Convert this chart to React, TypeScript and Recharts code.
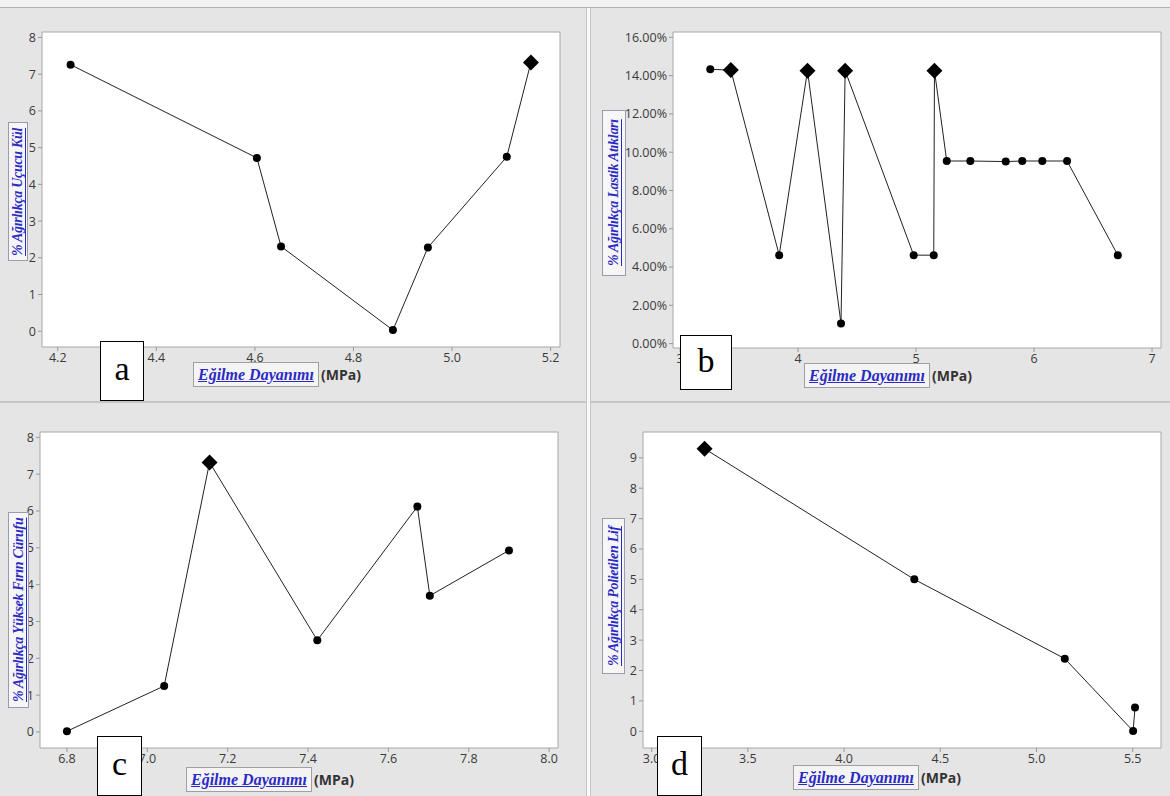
import React from "react";
import { LineChart, Line, XAxis, YAxis, ReferenceArea } from "recharts";

// a — Uçucu Kül
const aStrength = [4.226, 4.604, 4.653, 4.88, 4.951, 5.111, 5.16];
const aPercent = [7.26, 4.72, 2.31, 0.03, 2.28, 4.75, 7.32];
const aBest = [6];
const aXTicks = [4.2, 4.4, 4.6, 4.8, 5.0, 5.2];
const aYTicks = [0, 1, 2, 3, 4, 5, 6, 7, 8];

// b — Lastik Atıkları
const bStrength = [3.256, 3.43, 3.84, 4.08, 4.364, 4.399, 4.98, 5.15, 5.156, 5.26, 5.46, 5.76, 5.9, 6.07, 6.28, 6.71];
const bPercent = [14.33, 14.29, 4.62, 14.26, 1.05, 14.26, 4.62, 4.62, 14.26, 9.54, 9.54, 9.51, 9.54, 9.54, 9.54, 4.62];
const bBest = [1, 3, 5, 8];
const bXTicks = [3, 4, 5, 6, 7];
const bYTicks = [0, 2, 4, 6, 8, 10, 12, 14, 16];

// c — Yüksek Fırın Cürufu
const cStrength = [6.8, 7.042, 7.155, 7.423, 7.672, 7.703, 7.9];
const cPercent = [0.02, 1.25, 7.32, 2.49, 6.12, 3.7, 4.93];
const cBest = [2];
const cXTicks = [6.8, 7.0, 7.2, 7.4, 7.6, 7.8, 8.0];
const cYTicks = [0, 1, 2, 3, 4, 5, 6, 7, 8];

// d — Polietilen Lif
const dStrength = [3.275, 4.365, 5.147, 5.502, 5.512];
const dPercent = [9.3, 5.0, 2.39, 0.01, 0.78];
const dBest = [0];
const dXTicks = [3.0, 3.5, 4.0, 4.5, 5.0, 5.5];
const dYTicks = [0, 1, 2, 3, 4, 5, 6, 7, 8, 9];

const xLabel = "Eğilme Dayanımı";
const unitLabel = "(MPa)";

const BLUE = "#2b2bc4";
const TICK = { fontSize: 12.5, fill: "#3a3a3a", fontFamily: "'Open Sans', sans-serif" };

function makeDot(best: number[]) {
  return (props: any) => {
    const { cx, cy, index } = props;
    if (best.includes(index)) {
      const s = 8;
      return (
        <path
          key={`dm-${index}`}
          d={`M${cx},${cy - s} L${cx + s},${cy} L${cx},${cy + s} L${cx - s},${cy} Z`}
          fill="#000"
        />
      );
    }
    return <circle key={`dt-${index}`} cx={cx} cy={cy} r={4} fill="#000" />;
  };
}

interface PanelProps {
  xs: number[];
  ys: number[];
  best: number[];
  xDomain: [number, number];
  yDomain: [number, number];
  xTicks: number[];
  yTicks: number[];
  xFmt: (v: number) => string;
  yFmt: (v: number) => string;
  left: number;
  top: number;
  height: number;
  margin: { top: number; right: number; bottom: number; left: number };
  yWidth: number;
}

function Panel(p: PanelProps) {
  const data = p.xs.map((x, i) => ({ x, y: p.ys[i] }));
  return (
    <div style={{ position: "absolute", left: p.left, top: p.top }}>
      <LineChart width={585} height={p.height} data={data} margin={p.margin}>
        <XAxis
          type="number"
          dataKey="x"
          domain={p.xDomain}
          ticks={p.xTicks}
          tickFormatter={p.xFmt}
          allowDataOverflow
          axisLine={false}
          tickLine={{ stroke: "#999" }}
          tickSize={4}
          tickMargin={2}
          height={28}
          tick={TICK}
        />
        <YAxis
          type="number"
          domain={p.yDomain}
          ticks={p.yTicks}
          tickFormatter={p.yFmt}
          allowDataOverflow
          axisLine={false}
          tickLine={{ stroke: "#999" }}
          tickSize={4}
          tickMargin={2}
          width={p.yWidth}
          tick={TICK}
        />
        <ReferenceArea
          x1={p.xDomain[0]}
          x2={p.xDomain[1]}
          y1={p.yDomain[0]}
          y2={p.yDomain[1]}
          fill="#fff"
          fillOpacity={1}
          stroke="#a8a8a8"
          strokeWidth={1}
          ifOverflow="visible"
        />
        <Line
          type="linear"
          dataKey="y"
          stroke="#222"
          strokeWidth={1}
          dot={makeDot(p.best)}
          activeDot={false}
          isAnimationActive={false}
        />
      </LineChart>
    </div>
  );
}

function YTitle({ text, left, top, width, height }: { text: string; left: number; top: number; width: number; height: number }) {
  return (
    <div
      style={{
        position: "absolute",
        left,
        top,
        width,
        height,
        boxSizing: "border-box",
        border: "1px solid #9a9ab0",
        background: "#f6f6f6",
        writingMode: "vertical-rl",
        transform: "rotate(180deg)",
        fontFamily: "'Liberation Serif', serif",
        fontStyle: "italic",
        fontWeight: "bold",
        fontSize: 14,
        letterSpacing: "-0.3px",
        color: BLUE,
        textDecoration: "underline",
        lineHeight: `${width - 2}px`,
        textAlign: "center",
        whiteSpace: "nowrap",
      }}
    >
      {text}
    </div>
  );
}

function XTitle({ left, top }: { left: number; top: number }) {
  return (
    <div style={{ position: "absolute", left, top, display: "flex", alignItems: "center", whiteSpace: "nowrap" }}>
      <div
        style={{
          border: "1px solid #a0a0a0",
          background: "#f4f4f4",
          height: 25,
          width: 126,
          boxSizing: "border-box",
          fontFamily: "'Liberation Serif', serif",
          fontStyle: "italic",
          fontWeight: "bold",
          fontSize: 16,
          color: BLUE,
          textDecoration: "underline",
          lineHeight: "23px",
          textAlign: "center",
        }}
      >
        {xLabel}
      </div>
      <span style={{ fontFamily: "'Open Sans', sans-serif", fontWeight: "bold", fontSize: 14, color: "#333", marginLeft: 2 }}>
        {unitLabel}
      </span>
    </div>
  );
}

function Letter({ ch, left, top, width, height }: { ch: string; left: number; top: number; width: number; height: number }) {
  return (
    <div
      style={{
        position: "absolute",
        left,
        top,
        width,
        height,
        boxSizing: "border-box",
        border: "1px solid #000",
        background: "#fff",
        fontFamily: "'Liberation Serif', serif",
        fontSize: 34,
        lineHeight: `${height - 6}px`,
        textAlign: "center",
        color: "#000",
      }}
    >
      {ch}
    </div>
  );
}

const one = (v: number) => v.toFixed(1);
const int = (v: number) => String(v);
const pct = (v: number) => `${v.toFixed(2)}%`;

export default function App() {
  return (
    <div style={{ position: "relative", width: 1170, height: 796, background: "#e5e5e5", overflow: "hidden" }}>
      <style>{`body{margin:0}`}</style>
      {/* frame lines */}
      <div style={{ position: "absolute", left: 0, top: 0, width: 1170, height: 7, background: "#f2f2f2" }} />
      <div style={{ position: "absolute", left: 0, top: 7, width: 1170, height: 1, background: "#b0b0b0" }} />
      <div style={{ position: "absolute", left: 0, top: 401, width: 1170, height: 2, background: "#c6c6c6" }} />
      <div style={{ position: "absolute", left: 586, top: 8, width: 1, height: 788, background: "#c6c6c6" }} />
      <div style={{ position: "absolute", left: 587, top: 8, width: 3, height: 788, background: "#fafafa" }} />
      <div style={{ position: "absolute", left: 590, top: 8, width: 1, height: 788, background: "#c6c6c6" }} />

      <Panel
        xs={aStrength} ys={aPercent} best={aBest}
        xDomain={[4.168, 5.219]} yDomain={[-0.43, 8.15]}
        xTicks={aXTicks} yTicks={aYTicks} xFmt={one} yFmt={int}
        left={0} top={0} height={400}
        margin={{ top: 32, right: 25, bottom: 25, left: 2 }} yWidth={40}
      />
      <Panel
        xs={bStrength} ys={bPercent} best={bBest}
        xDomain={[2.94, 7.076]} yDomain={[-0.23, 16.28]}
        xTicks={bXTicks} yTicks={bYTicks} xFmt={int} yFmt={pct}
        left={585} top={0} height={400}
        margin={{ top: 32, right: 9, bottom: 24, left: 8 }} yWidth={80}
      />
      <Panel
        xs={cStrength} ys={cPercent} best={cBest}
        xDomain={[6.733, 8.022]} yDomain={[-0.435, 8.145]}
        xTicks={cXTicks} yTicks={cYTicks} xFmt={one} yFmt={int}
        left={0} top={400} height={396}
        margin={{ top: 32, right: 27, bottom: 20, left: 0 }} yWidth={40}
      />
      <Panel
        xs={dStrength} ys={dPercent} best={dBest}
        xDomain={[2.955, 5.647]} yDomain={[-0.55, 9.85]}
        xTicks={dXTicks} yTicks={dYTicks} xFmt={one} yFmt={int}
        left={585} top={400} height={396}
        margin={{ top: 32, right: 9, bottom: 20, left: 18 }} yWidth={40}
      />

      <YTitle text="% Ağırlıkça Uçucu Kül" left={8} top={122} width={20} height={139} />
      <YTitle text="% Ağırlıkça Lastik Atıkları" left={602} top={110} width={24} height={166} />
      <YTitle text="% Ağırlıkça Yüksek Fırın Cürufu" left={8} top={512} width={21} height={196} />
      <YTitle text="% Ağırlıkça Polietilen Lif" left={602} top={518} width={23} height={156} />

      <XTitle left={193} top={362} />
      <XTitle left={804} top={363} />
      <XTitle left={186} top={767} />
      <XTitle left={793} top={765} />

      <Letter ch="a" left={100} top={341} width={44} height={60} />
      <Letter ch="b" left={680} top={335} width={52} height={55} />
      <Letter ch="c" left={97} top={736} width={45} height={60} />
      <Letter ch="d" left={657} top={736} width={45} height={60} />
    </div>
  );
}
